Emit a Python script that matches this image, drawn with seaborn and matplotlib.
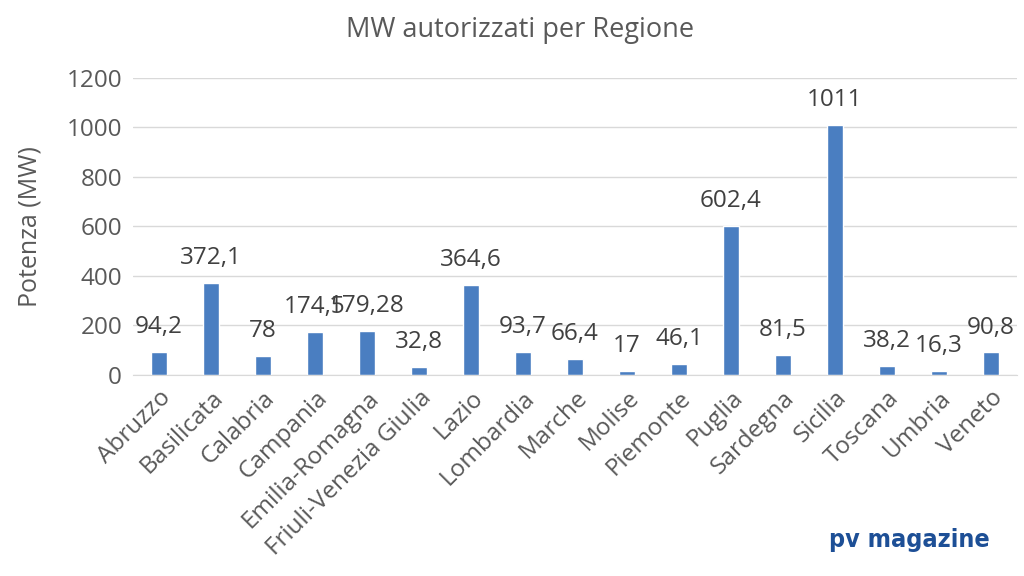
import seaborn as sns
import matplotlib.pyplot as plt

regioni = ['Abruzzo', 'Basilicata', 'Calabria', 'Campania', 'Emilia-Romagna',
           'Friuli-Venezia Giulia', 'Lazio', 'Lombardia', 'Marche', 'Molise',
           'Piemonte', 'Puglia', 'Sardegna', 'Sicilia', 'Toscana', 'Umbria', 'Veneto']
potenza_mw = [94.2, 372.1, 78, 174.5, 179.28, 32.8, 364.6, 93.7, 66.4, 17,
              46.1, 602.4, 81.5, 1011, 38.2, 16.3, 90.8]
y_ticks = [0, 200, 400, 600, 800, 1000, 1200]

GREY = '#595959'
BLUE = '#4a7ec1'

sns.set_style('white')
plt.rcParams['font.family'] = ['Open Sans', 'DejaVu Sans']

fig = plt.figure(figsize=(10.24, 5.76), dpi=100)
ax = fig.add_axes([0.130, 0.349, 0.863, 0.516])

sns.barplot(x=regioni, y=potenza_mw, color=BLUE, saturation=1, width=0.31, ax=ax)

# etichette con la virgola decimale
labels = [f'{v:g}'.replace('.', ',') for v in potenza_mw]
ax.bar_label(ax.containers[0], labels=labels, padding=9, fontsize=17.5, color='#404040')

ax.set_ylim(0, 1200)
ax.set_xlim(-0.5, len(regioni) - 0.5)
ax.set_yticks(y_ticks)
ax.yaxis.grid(True, color='#d9d9d9', linewidth=1)
ax.set_axisbelow(True)
for side in ['top', 'right', 'left']:
    ax.spines[side].set_visible(False)
ax.spines['bottom'].set_color('#d9d9d9')
ax.tick_params(axis='both', length=0, labelsize=17.5, labelcolor=GREY, pad=8)
plt.setp(ax.get_xticklabels(), rotation=45, ha='right', rotation_mode='anchor')

ax.set_xlabel('')
ax.set_ylabel('Potenza (MW)', fontsize=18, color=GREY)
ax.yaxis.set_label_coords(-0.103, 0.5)
fig.text(0.508, 0.948, 'MW autorizzati per Regione', ha='center', va='center',
         fontsize=19.5, color=GREY)
fig.text(0.967, 0.062, 'pv magazine', ha='right', va='center', fontsize=18,
         fontweight='bold', fontstretch='condensed', color='#1d4f96',
         family=['DejaVu Sans'])

fig.savefig('out.png', dpi=100)
